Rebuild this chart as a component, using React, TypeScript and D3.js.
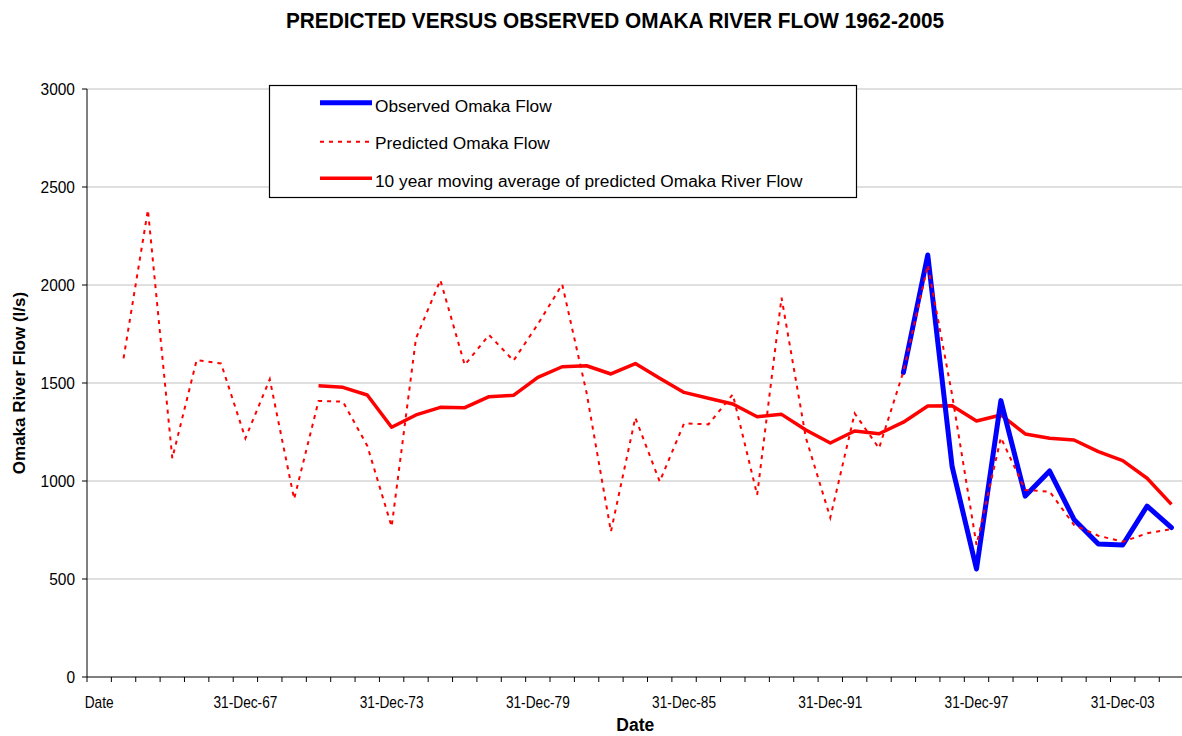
import React from "react";
import * as d3 from "d3";

const categories: string[] = [
  "Date",
  "31-Dec-62", "31-Dec-63", "31-Dec-64", "31-Dec-65", "31-Dec-66", "31-Dec-67",
  "31-Dec-68", "31-Dec-69", "31-Dec-70", "31-Dec-71", "31-Dec-72", "31-Dec-73",
  "31-Dec-74", "31-Dec-75", "31-Dec-76", "31-Dec-77", "31-Dec-78", "31-Dec-79",
  "31-Dec-80", "31-Dec-81", "31-Dec-82", "31-Dec-83", "31-Dec-84", "31-Dec-85",
  "31-Dec-86", "31-Dec-87", "31-Dec-88", "31-Dec-89", "31-Dec-90", "31-Dec-91",
  "31-Dec-92", "31-Dec-93", "31-Dec-94", "31-Dec-95", "31-Dec-96", "31-Dec-97",
  "31-Dec-98", "31-Dec-99", "31-Dec-00", "31-Dec-01", "31-Dec-02", "31-Dec-03",
  "31-Dec-04", "31-Dec-05",
];

// Predicted Omaka flow (l/s), null where no value
const predicted: (number | null)[] = [
  null,
  1626, 2383, 1116, 1617, 1600, 1218, 1519, 908, 1408, 1405,
  1180, 767, 1728, 2025, 1592, 1745, 1614, 1800, 2003, 1450,
  742, 1323, 997, 1294, 1289, 1442, 929, 1935, 1220, 813,
  1345, 1167, 1558, 2102, 1439, 674, 1221, 954, 946, 776,
  721, 690, 733, 755,
];

// 10 year moving average of predicted flow
const movingAverage: (number | null)[] = [
  null, null, null, null, null, null, null, null, null,
  1486, 1478, 1439, 1274, 1337, 1376, 1374, 1430, 1437, 1529,
  1583, 1588, 1546, 1599, 1524, 1452, 1422, 1393, 1328, 1340,
  1260, 1194, 1255, 1241, 1300, 1383, 1384, 1306, 1337, 1240,
  1218, 1209, 1150, 1104, 1014, 881,
];

// Observed Omaka flow
const observed: (number | null)[] = [
  null, null, null, null, null, null, null, null, null, null,
  null, null, null, null, null, null, null, null, null, null,
  null, null, null, null, null, null, null, null, null, null,
  null, null, null,
  1553, 2153, 1073, 551, 1410, 923, 1051, 804, 679, 674, 872, 762,
];

const yTicks: number[] = [0, 500, 1000, 1500, 2000, 2500, 3000];
const labelEvery = 6;

const legendItems = [
  { label: "Observed Omaka Flow", kind: "observed" },
  { label: "Predicted Omaka Flow", kind: "predicted" },
  { label: "10 year moving average of predicted Omaka River Flow", kind: "average" },
];

const FONT = "'Liberation Sans', Arial, Helvetica, sans-serif";

export default function App() {
  const W = 1182;
  const H = 736;
  const left = 87;
  const step = 24.37;
  const right = left + step * categories.length;
  const top = 89;
  const bottom = 677;

  const x = d3.scaleBand<string>().domain(categories).range([left, right]).padding(0);
  const y = d3.scaleLinear().domain([0, 3000]).range([bottom, top]);
  const cx = (i: number) => (x(categories[i]) as number) + x.bandwidth() / 2;

  const mkLine = (vals: (number | null)[]) =>
    d3
      .line<number | null>()
      .defined((d) => d !== null)
      .x((_, i) => cx(i))
      .y((d) => y(d as number))(vals) || "";

  const styles: Record<string, any> = {
    observed: { stroke: "#0000ff", strokeWidth: 5, dash: undefined },
    predicted: { stroke: "#ff0000", strokeWidth: 2, dash: "4 5" },
    average: { stroke: "#ff0000", strokeWidth: 3.5, dash: undefined },
  };

  const boundaries = d3.range(categories.length + 1).map((k) => left + k * x.bandwidth());

  return (
    <svg
      width={W}
      height={H}
      style={{ position: "absolute", left: 0, top: 0, background: "#fff" }}
      fontFamily={FONT}
    >
      <rect x={0} y={0} width={W} height={H} fill="#fff" />
      {/* title */}
      <text
        transform="translate(615,28) scale(1,1.08)"
        textAnchor="middle"
        fontWeight="bold"
        fontSize={20.8}
        fill="#000"
      >
        PREDICTED VERSUS OBSERVED OMAKA RIVER FLOW 1962-2005
      </text>

      {/* gridlines */}
      {yTicks.filter((t) => t > 0).map((t) => (
        <line key={"g" + t} x1={left} x2={right} y1={y(t)} y2={y(t)} stroke="#c0c0c0" strokeWidth={1} />
      ))}

      {/* y axis */}
      <line x1={left} x2={left} y1={top} y2={bottom} stroke="#000" strokeWidth={1} />
      {yTicks.map((t) => (
        <g key={"y" + t}>
          <line x1={left - 5} x2={left} y1={y(t)} y2={y(t)} stroke="#000" />
          <text
            transform={`translate(75,${y(t) + 6}) scale(1,1.1)`}
            textAnchor="end"
            fontSize={15.5}
            fill="#000"
          >
            {t}
          </text>
        </g>
      ))}
      <text
        transform={`translate(25,${(top + bottom) / 2}) rotate(-90)`}
        textAnchor="middle"
        fontWeight="bold"
        fontSize={17}
        fill="#000"
      >
        Omaka River Flow (l/s)
      </text>

      {/* x axis */}
      <line x1={left} x2={right} y1={bottom} y2={bottom} stroke="#000" strokeWidth={1} />
      {boundaries.map((bx, k) => (
        <line key={"xt" + k} x1={bx} x2={bx} y1={bottom} y2={bottom + 5} stroke="#000" />
      ))}
      {categories.map((c, i) =>
        i % labelEvery === 0 ? (
          <text
            key={"xl" + i}
            transform={`translate(${cx(i)},707.5) scale(1,1.18)`}
            textAnchor="middle"
            fontSize={13.7}
            fill="#000"
          >
            {c}
          </text>
        ) : null
      )}
      <text
        transform={`translate(${(left + right) / 2},731) scale(1,1.08)`}
        textAnchor="middle"
        fontWeight="bold"
        fontSize={17.5}
        fill="#000"
      >
        Date
      </text>

      {/* series */}
      <path d={mkLine(movingAverage)} fill="none" stroke="#ff0000" strokeWidth={3.5} strokeLinejoin="round" />
      <path d={mkLine(observed)} fill="none" stroke="#0000ff" strokeWidth={5} strokeLinejoin="round" strokeLinecap="round" />
      <path d={mkLine(predicted)} fill="none" stroke="#ff0000" strokeWidth={2} strokeDasharray="4 5" />

      {/* legend */}
      <rect x={269.5} y={85.5} width={587} height={112} fill="#fff" stroke="#000" strokeWidth={1.2} />
      {legendItems.map((it, k) => {
        const ly = [102.7, 141.7, 178.3][k];
        const st = styles[it.kind];
        return (
          <g key={it.label}>
            <line x1={320} x2={372} y1={ly} y2={ly} stroke={st.stroke} strokeWidth={st.strokeWidth} strokeDasharray={st.dash} />
            <text x={375} y={[111.5, 148.5, 186.5][k]} fontSize={17.3} fill="#000">
              {it.label}
            </text>
          </g>
        );
      })}
    </svg>
  );
}
